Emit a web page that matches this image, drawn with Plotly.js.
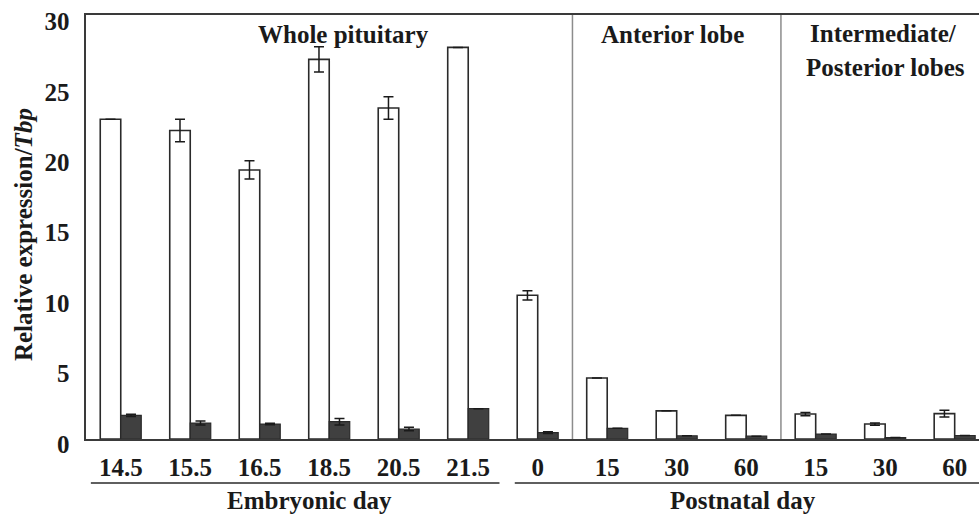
<!DOCTYPE html>
<html>
<head>
<meta charset="utf-8">
<script src="https://cdn.plot.ly/plotly-3.0.1.min.js"></script>
<style>html,body{margin:0;padding:0;background:#fff;}#chart{width:979px;height:515px;}</style>
</head>
<body>
<div id="chart"></div>
<script>
// Category tick labels (13 groups)
var tickLabels = ["14.5","15.5","16.5","18.5","20.5","21.5","0","15","30","60","15","30","60"];
// White bars (first series) values and errors
var whiteValues = [22.7, 21.9, 19.1, 26.95, 23.5, 27.8, 10.2, 4.33, 2.0, 1.68, 1.77, 1.06, 1.8];
var whiteErrors = [null, 0.8, 0.65, 0.9, 0.8, null, 0.33, null, null, null, 0.12, 0.08, 0.24];
// Dark bars (second series) values and errors
var darkValues = [1.68, 1.13, 1.06, 1.23, 0.71, 2.15, 0.45, 0.76, 0.23, 0.2, 0.35, 0.1, 0.25];
var darkErrors = [0.08, 0.14, 0.05, 0.23, 0.12, null, 0.06, null, null, null, null, null, null];
// Region headers
var regionTitles = ["Whole pituitary", "Anterior lobe", "Intermediate/", "Posterior lobes"];
var periodTitles = ["Embryonic day", "Postnatal day"];

var idx = tickLabels.map(function(_, i){ return i; });
var FONT = "'Liberation Serif', 'Times New Roman', Times, serif";
var FS = 25;

var traces = [
  {
    type: "bar", x: idx, y: whiteValues, name: "A",
    marker: {color: "#ffffff", line: {color: "#2a2a2a", width: 1.6}},
    error_y: {type: "data", array: whiteErrors, visible: true, color: "#1a1a1a", thickness: 1.5, width: 5},
    hoverinfo: "skip"
  },
  {
    type: "bar", x: idx, y: darkValues, name: "B",
    marker: {color: "#404040", line: {color: "#2a2a2a", width: 1.2}},
    error_y: {type: "data", array: darkErrors, visible: true, color: "#1a1a1a", thickness: 1.5, width: 5},
    hoverinfo: "skip"
  }
];

var layout = {
  width: 979, height: 515,
  margin: {l: 86, r: 0, t: 15, b: 76, pad: 0},
  paper_bgcolor: "#ffffff", plot_bgcolor: "#ffffff",
  showlegend: false,
  barmode: "group", bargap: 0.41, bargroupgap: 0,
  font: {family: FONT, size: FS, color: "#1a1a1a"},
  xaxis: {
    range: [-0.5, 12.35], tickvals: idx, ticktext: tickLabels,
    showgrid: false, zeroline: false, showline: true, mirror: true,
    linecolor: "#3a3a3a", linewidth: 1.6, ticks: "",
    tickfont: {family: FONT, size: FS, weight: "bold", color: "#1a1a1a"},
    ticklabelstandoff: 5
  },
  yaxis: {
    range: [0, 30.1], tickvals: [0,5,10,15,20,25,30],
    showgrid: false, zeroline: false, showline: true,
    linecolor: "#3a3a3a", linewidth: 1.6, ticks: "",
    tickfont: {family: FONT, size: FS, weight: "bold", color: "#1a1a1a"},
    ticklabelstandoff: 10, ticklabelshift: 5
  },
  shapes: [
    {type: "line", xref: "x", yref: "paper", x0: 6.5, x1: 6.5, y0: 0, y1: 1, line: {color: "#8c8c8c", width: 1.5}},
    {type: "line", xref: "x", yref: "paper", x0: 9.5, x1: 9.5, y0: 0, y1: 1, line: {color: "#8c8c8c", width: 1.5}},
    {type: "line", xref: "x", yref: "paper", x0: -0.43, x1: 5.45, y0: -0.1038, y1: -0.1038, line: {color: "#2a2a2a", width: 1.6}},
    {type: "line", xref: "x", yref: "paper", x0: 5.67, x1: 12.4, y0: -0.1038, y1: -0.1038, line: {color: "#2a2a2a", width: 1.6}}
  ],
  annotations: [
    {text: "<b>" + regionTitles[0] + "</b>", xref: "x", yref: "paper", x: 3.21, y: 0.953, xanchor: "center", yanchor: "middle", showarrow: false},
    {text: "<b>" + regionTitles[1] + "</b>", xref: "x", yref: "paper", x: 7.94, y: 0.953, xanchor: "center", yanchor: "middle", showarrow: false},
    {text: "<b>" + regionTitles[2] + "</b>", xref: "x", yref: "paper", x: 10.98, y: 0.956, xanchor: "center", yanchor: "middle", showarrow: false},
    {text: "<b>" + regionTitles[3] + "</b>", xref: "x", yref: "paper", x: 11.01, y: 0.877, xanchor: "center", yanchor: "middle", showarrow: false},
    {text: "<b>" + periodTitles[0] + "</b>", xref: "x", yref: "paper", x: 2.72, y: -0.146, xanchor: "center", yanchor: "middle", showarrow: false},
    {text: "<b>" + periodTitles[1] + "</b>", xref: "x", yref: "paper", x: 8.95, y: -0.146, xanchor: "center", yanchor: "middle", showarrow: false},
    {text: "<b>Relative expression/<i>Tbp</i></b>", xref: "paper", yref: "paper", x: -0.0705, y: 0.481, xanchor: "center", yanchor: "middle", textangle: -90, showarrow: false}
  ]
};

Plotly.newPlot("chart", traces, layout, {displayModeBar: false, staticPlot: true});
</script>
</body>
</html>
